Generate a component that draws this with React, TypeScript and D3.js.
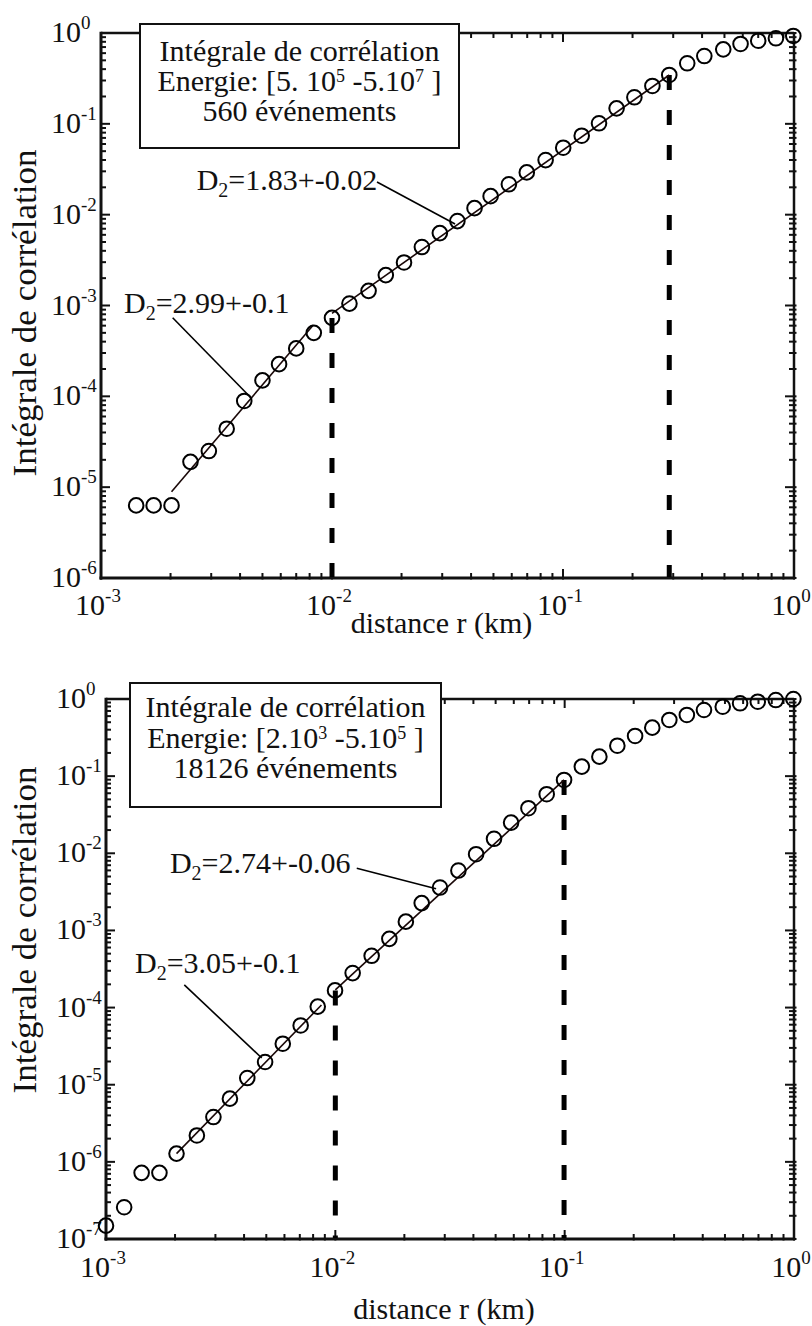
import React from 'react';
import * as d3 from 'd3';

// ---------- DATA: top panel (Energie [5.10^5 - 5.10^7], 560 événements) ----------
const topR = [0.00142, 0.00169, 0.00202, 0.00244, 0.00293, 0.0035, 0.00417, 0.005, 0.0059, 0.007, 0.00834, 0.01,
  0.0119, 0.0144, 0.0171, 0.0205, 0.0245, 0.0293, 0.0349, 0.0414, 0.0486, 0.0583, 0.0697, 0.0841, 0.1002, 0.1205,
  0.1432, 0.1706, 0.2037, 0.2438, 0.2884, 0.345, 0.409, 0.494, 0.587, 0.7, 0.835, 0.993];
const topC = [6.3e-6, 6.3e-6, 6.3e-6, 1.9e-5, 2.5e-5, 4.4e-5, 8.9e-5, 1.5e-4, 2.26e-4, 3.37e-4, 5.0e-4, 7.3e-4,
  1.05e-3, 1.45e-3, 2.16e-3, 2.98e-3, 4.4e-3, 6.27e-3, 8.5e-3, 0.0118, 0.016, 0.0216, 0.0292, 0.0399, 0.0546, 0.074,
  0.1013, 0.148, 0.196, 0.261, 0.345, 0.464, 0.558, 0.661, 0.757, 0.823, 0.874, 0.927];
const topFitA_R = [0.00202, 0.0083];
const topFitA_C = [8.9e-6, 6.1e-4];
const topFitB_R = [0.01, 0.2884];
const topFitB_C = [8.2e-4, 0.345];
const topDashR = [0.01, 0.2884];
const topDashC = [7.3e-4, 0.345];
const topBoxLines = ['Intégrale de corrélation', ['5. 10', '5', ' -5.10', '7'], '560 événements'];
const topNotes = [
  { label: '=1.83+-0.02', tx: 0.002594, ty: 0.01866, r0: 0.01566, c0: 0.02286, r1: 0.0341, c1: 7.88e-3 },
  { label: '=2.99+-0.1', tx: 0.001258, ty: 8.18e-4, r0: 0.002043, c0: 7.32e-4, r1: 0.00449, c1: 9.48e-5 },
];

// ---------- DATA: bottom panel (Energie [2.10^3 - 5.10^5], 18126 événements) ----------
const botR = [0.001, 0.0012, 0.00143, 0.00171, 0.00203, 0.00249, 0.00294, 0.00347, 0.00413, 0.00494, 0.0059, 0.00706,
  0.00838, 0.00997, 0.0119, 0.0144, 0.0172, 0.0203, 0.0238, 0.0286, 0.0344, 0.0411, 0.0492, 0.0584, 0.0695, 0.0835,
  0.0994, 0.1188, 0.1417, 0.1697, 0.2028, 0.241, 0.286, 0.341, 0.405, 0.489, 0.582, 0.695, 0.833, 0.994];
const botC = [1.49e-7, 2.58e-7, 7.2e-7, 7.2e-7, 1.28e-6, 2.2e-6, 3.81e-6, 6.6e-6, 1.22e-5, 1.97e-5, 3.4e-5, 5.86e-5,
  1.03e-4, 1.67e-4, 2.8e-4, 4.69e-4, 7.78e-4, 1.3e-3, 2.26e-3, 3.6e-3, 5.97e-3, 9.73e-3, 0.0154, 0.025, 0.0384, 0.0583,
  0.0893, 0.133, 0.179, 0.248, 0.332, 0.425, 0.535, 0.621, 0.72, 0.795, 0.879, 0.923, 0.97, 1.0];
const botFitA_R = [0.00203, 0.0087];
const botFitA_C = [1.28e-6, 1.08e-4];
const botFitB_R = [0.01, 0.0994];
const botFitB_C = [1.7e-4, 0.0893];
const botDashR = [0.01, 0.0994];
const botDashC = [1.67e-4, 0.0893];
const botBoxLines = ['Intégrale de corrélation', ['2.10', '3', ' -5.10', '5'], '18126 événements'];
const botNotes = [
  { label: '=2.74+-0.06', tx: 0.0019, ty: 5.62e-3, r0: 0.0124, c0: 6.41e-3, r1: 0.0275, c1: 3.46e-3 },
  { label: '=3.05+-0.1', tx: 0.001338, ty: 2.8e-4, r0: 0.002195, c0: 1.97e-4, r1: 0.004775, c1: 2.22e-5 },
];

const xDomain = [1e-3, 1];
const xLabel = 'distance r (km)';
const yLabel = 'Intégrale de corrélation';

const FONT = '"Liberation Serif", "Times New Roman", Times, serif';
const INK = '#111';

type Note = { label: string; tx: number; ty: number; r0: number; c0: number; r1: number; c1: number };

type PanelCfg = {
  left: number; right: number; top: number; bottom: number; yMin: number;
  r: number[]; c: number[];
  fits: { r: number[]; c: number[] }[];
  dashR: number[]; dashC: number[];
  box: { x0: number; y0: number; x1: number; y1: number; base: number[] };
  boxLines: any[];
  notes: Note[];
  yTickX: number; xTickBase: number; xLabelBase: number; yLabelCy: number;
};

function isMajor(v: number) {
  const l = Math.log10(v);
  return Math.abs(l - Math.round(l)) < 1e-9;
}

function Panel({ cfg }: { cfg: PanelCfg }) {
  const x = d3.scaleLog().domain(xDomain).range([cfg.left, cfg.right]);
  const y = d3.scaleLog().domain([cfg.yMin, 1]).range([cfg.bottom, cfg.top]);
  const xt = x.ticks(20);
  const yt = y.ticks(20);
  const line = d3.line<[number, number]>().x(d => x(d[0])).y(d => y(d[1]));
  const bx = cfg.box;
  const cx = (bx.x0 + bx.x1) / 2;
  const maj = 9, mn = 5;

  return (
    <g fontFamily={FONT} fill={INK}>
      {/* frame */}
      <line x1={cfg.left} x2={cfg.right} y1={cfg.top} y2={cfg.top} stroke={INK} strokeWidth={2.5} />
      <line x1={cfg.right} x2={cfg.right} y1={cfg.top} y2={cfg.bottom} stroke={INK} strokeWidth={2.5} />
      <line x1={cfg.left} x2={cfg.left} y1={cfg.top - 1.2} y2={cfg.bottom + 1.5} stroke={INK} strokeWidth={3} />
      <line x1={cfg.left - 1.5} x2={cfg.right + 1.2} y1={cfg.bottom} y2={cfg.bottom} stroke={INK} strokeWidth={3} />
      {/* x ticks (bottom & top, inward) */}
      {xt.map((v, i) => {
        const L = isMajor(v) ? maj : mn;
        return (
          <g key={'xt' + i} stroke={INK} strokeWidth={2}>
            <line x1={x(v)} x2={x(v)} y1={cfg.bottom + 1.5} y2={cfg.bottom - L} />
            <line x1={x(v)} x2={x(v)} y1={cfg.top} y2={cfg.top + L} />
          </g>
        );
      })}
      {yt.map((v, i) => {
        const L = isMajor(v) ? maj : mn;
        return (
          <g key={'yt' + i} stroke={INK} strokeWidth={2}>
            <line x1={cfg.left} x2={cfg.left + L} y1={y(v)} y2={y(v)} />
            <line x1={cfg.right + 2.5} x2={cfg.right - L} y1={y(v)} y2={y(v)} />
          </g>
        );
      })}
      {/* tick labels */}
      {xt.filter(isMajor).map((v, i) => (
        <text key={'xl' + i} x={x(v) - 3} y={cfg.xTickBase} fontSize={30} textAnchor="middle">
          10<tspan dy={-13} fontSize={19}>{String(Math.round(Math.log10(v)))}</tspan>
        </text>
      ))}
      {yt.filter(isMajor).map((v, i) => (
        <text key={'yl' + i} x={cfg.yTickX} y={y(v) + 9} fontSize={30} textAnchor="start">
          10<tspan dy={-13} fontSize={19}>{String(Math.round(Math.log10(v)))}</tspan>
        </text>
      ))}
      {/* axis titles */}
      <text x={(cfg.left + cfg.right) / 2 - 6} y={cfg.xLabelBase} fontSize={30} textAnchor="middle">{xLabel}</text>
      <text transform={`translate(36,${cfg.yLabelCy}) rotate(-90)`} fontSize={34} textAnchor="middle"
        textLength={327} lengthAdjust="spacingAndGlyphs">{yLabel}</text>

      {/* dashed cutoffs */}
      {cfg.dashR.map((r, i) => (
        <line key={'d' + i} x1={x(r)} x2={x(r)} y1={y(cfg.dashC[i])} y2={cfg.bottom - 1}
          stroke="#000" strokeWidth={5} strokeDasharray="15,20" />
      ))}
      {/* fit lines */}
      {cfg.fits.map((f, i) => (
        <path key={'f' + i} d={line(f.r.map((r, j) => [r, f.c[j]]) as [number, number][]) || ''}
          fill="none" stroke="#1a0808" strokeWidth={1.6} />
      ))}
      {/* points */}
      {cfg.r.map((r, i) => (
        <circle key={'p' + i} cx={x(r)} cy={y(cfg.c[i])} r={7.3} fill="none" stroke="#000" strokeWidth={2} />
      ))}
      {/* annotations */}
      {cfg.notes.map((n, i) => (
        <g key={'n' + i}>
          <text x={x(n.tx)} y={y(n.ty)} fontSize={30}>
            D<tspan dy={7} fontSize={20}>2</tspan><tspan dy={-7}>{n.label}</tspan>
          </text>
          <line x1={x(n.r0)} y1={y(n.c0)} x2={x(n.r1)} y2={y(n.c1)} stroke="#000" strokeWidth={1.6} />
        </g>
      ))}
      {/* legend box */}
      <rect x={bx.x0} y={bx.y0} width={bx.x1 - bx.x0} height={bx.y1 - bx.y0} fill="#fff" stroke={INK} strokeWidth={2} />
      <text x={cx} y={bx.base[0]} fontSize={30} textAnchor="middle">{cfg.boxLines[0]}</text>
      <text x={cx} y={bx.base[1]} fontSize={30} textAnchor="middle">
        Energie: [{cfg.boxLines[1][0]}<tspan dy={-9} fontSize={18}>{cfg.boxLines[1][1]}</tspan>
        <tspan dy={9}>{cfg.boxLines[1][2]}</tspan><tspan dy={-9} fontSize={18}>{cfg.boxLines[1][3]}</tspan>
        <tspan dy={9}>{' ]'}</tspan>
      </text>
      <text x={cx} y={bx.base[2]} fontSize={30} textAnchor="middle">{cfg.boxLines[2]}</text>
    </g>
  );
}

const topCfg: PanelCfg = {
  left: 101, right: 794, top: 33, bottom: 578, yMin: 1e-6,
  r: topR, c: topC,
  fits: [{ r: topFitA_R, c: topFitA_C }, { r: topFitB_R, c: topFitB_C }],
  dashR: topDashR, dashC: topDashC,
  box: { x0: 140, y0: 24, x1: 459, y1: 148, base: [61, 91, 121] },
  boxLines: topBoxLines,
  notes: topNotes,
  yTickX: 51, xTickBase: 615, xLabelBase: 633, yLabelCy: 313,
};

const botCfg: PanelCfg = {
  left: 106, right: 794, top: 699, bottom: 1239, yMin: 1e-7,
  r: botR, c: botC,
  fits: [{ r: botFitA_R, c: botFitA_C }, { r: botFitB_R, c: botFitB_C }],
  dashR: botDashR, dashC: botDashC,
  box: { x0: 130, y0: 683, x1: 441, y1: 807, base: [717, 748, 778] },
  boxLines: botBoxLines,
  notes: botNotes,
  yTickX: 56, xTickBase: 1277, xLabelBase: 1319, yLabelCy: 930,
};

export default function App() {
  return (
    <svg width={812} height={1326} viewBox="0 0 812 1326"
      style={{ position: 'absolute', left: 0, top: 0, background: '#fff' }}>
      <rect x={0} y={0} width={812} height={1326} fill="#fff" />
      <Panel cfg={topCfg} />
      <Panel cfg={botCfg} />
    </svg>
  );
}
